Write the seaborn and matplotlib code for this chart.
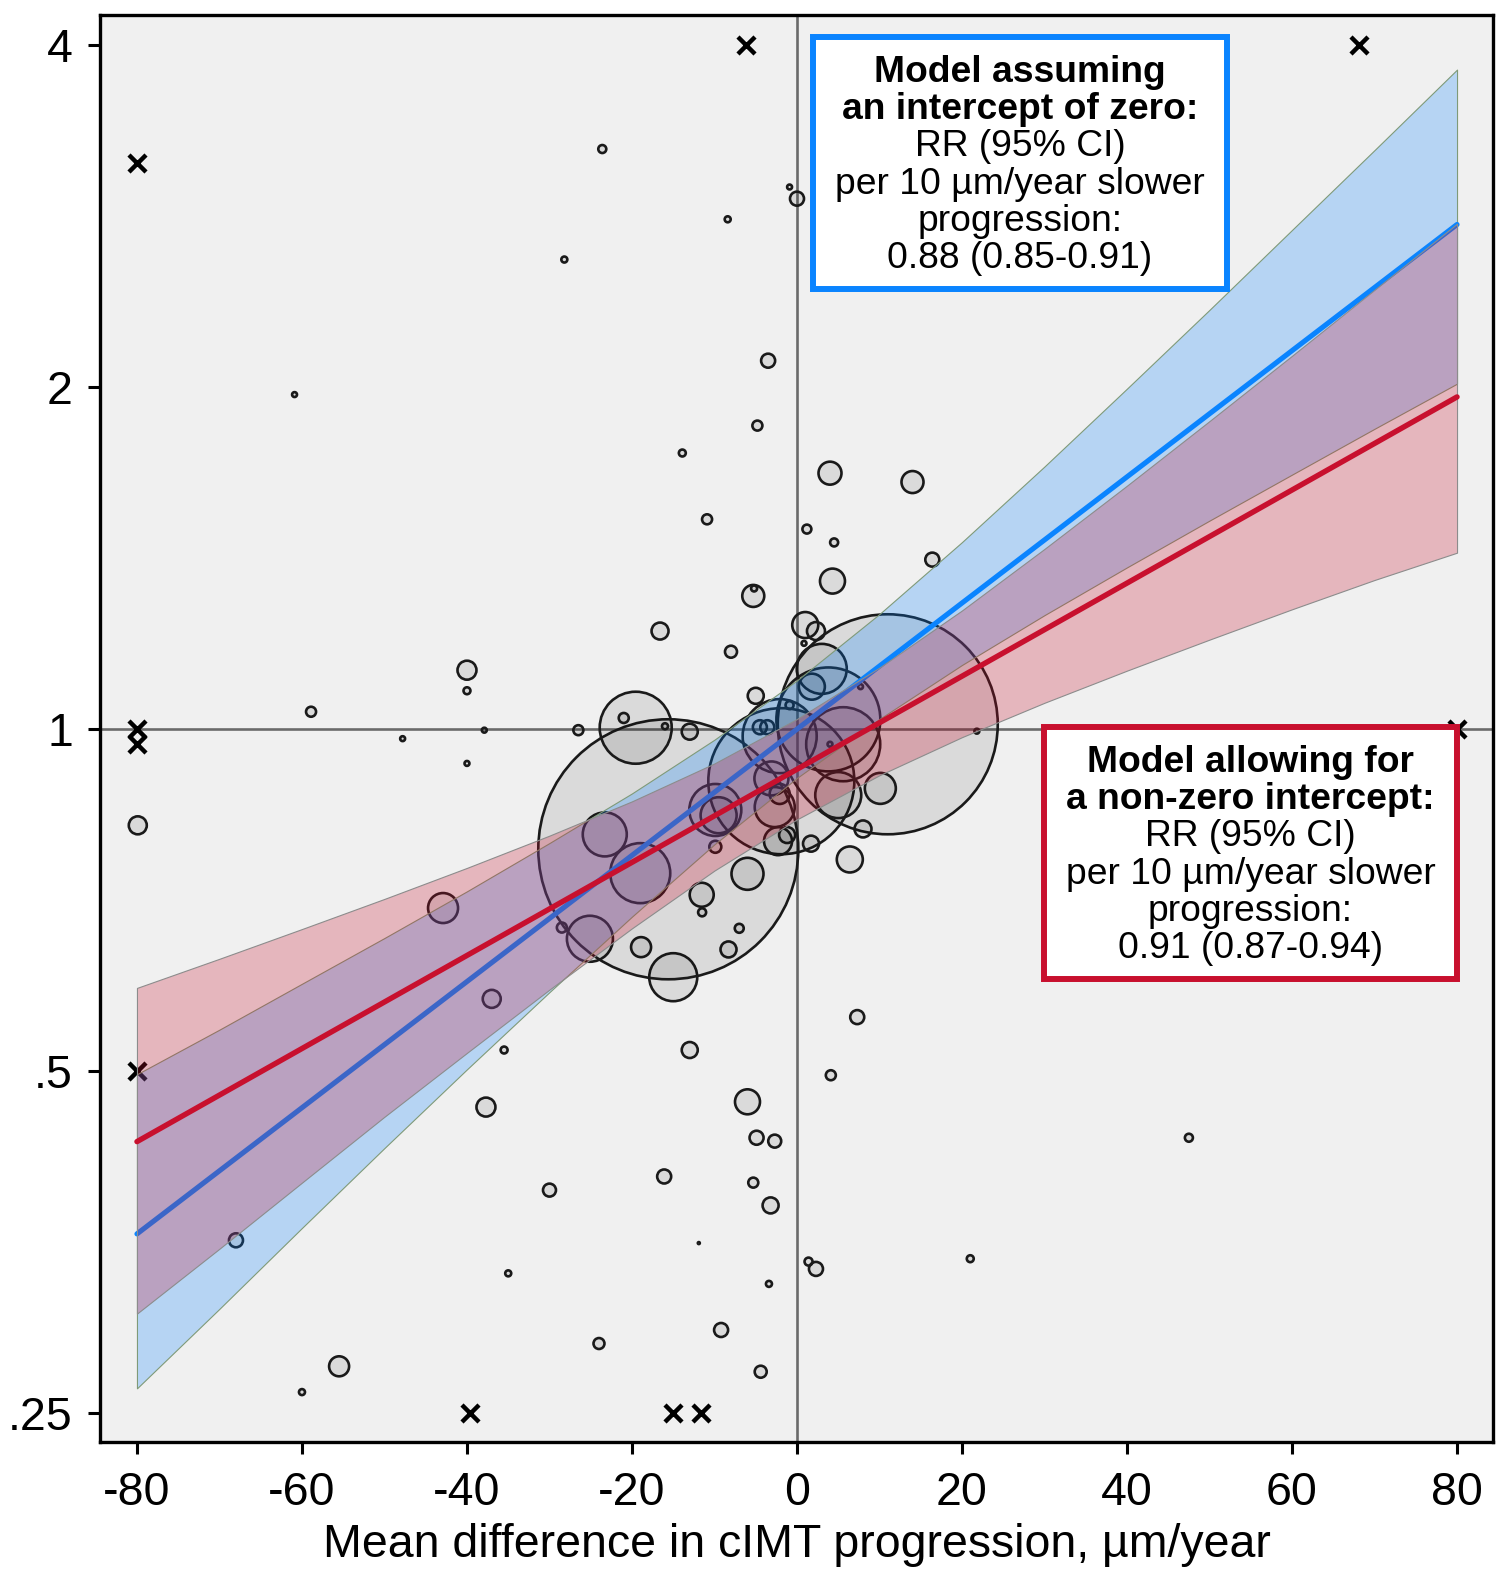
import numpy as np
import pandas as pd
import matplotlib
matplotlib.use("Agg")
import matplotlib.pyplot as plt
from matplotlib.colors import to_rgba
from matplotlib.patches import Rectangle
from matplotlib.ticker import FixedLocator, FixedFormatter, NullLocator
import seaborn as sns

# ---- study-level estimates -------------------------------------------------
# mean difference in cIMT progression (um/year), relative risk, relative weight
study_diff = [
    -23.6, -0.9, 0.0, -8.4, -28.2, -60.9, -3.5, -4.8, -13.9, -10.9,
    -5.3, -5.2, 4.0, 14.0, 1.2, 4.5, 16.4, 4.3, 1.0, 2.3,
    0.85, -8.0, -16.6, -5.0, 3.0, 1.8, 7.7, -0.9, 11.0, 3.8,
    5.6, -2.1, -4.5, -3.6, 4.0, -1.9, -3.1, -2.1, -2.7, -2.3,
    -1.2, 1.7, 5.0, 10.1, 8.0, 6.4, -9.9, -9.5, -9.9, -6.0,
    -11.55, -11.5, -7.0, -8.3, -18.9, -15.0, -25.1, -28.5, -19.0, -23.3,
    -15.6, -19.55, -21.0, -26.5, -16.0, -13.0, -79.9, -58.9, -47.8, -40.0,
    -40.0, -37.9, -40.0, -42.9, -37.0, -35.5, -37.7, -13.0, -6.0, -4.9,
    -2.7, -30.0, -16.1, -5.3, -3.2, -68.0, -11.9, -35.0, -3.4, -9.2,
    -24.0, -4.4, -55.5, -60.0, 7.3, 4.1, 1.4, 2.3, 21.0, 47.5,
    21.8,
]
study_rr = [
    3.24, 3.00, 2.93, 2.81, 2.59, 1.97, 2.11, 1.85, 1.75, 1.53,
    1.31, 1.33, 1.68, 1.65, 1.50, 1.46, 1.41, 1.35, 1.235, 1.22,
    1.19, 1.17, 1.22, 1.07, 1.13, 1.09, 1.09, 1.05, 1.01, 1.02,
    0.97, 0.986, 1.004, 1.004, 0.97, 0.90, 0.905, 0.877, 0.854, 0.797,
    0.807, 0.793, 0.875, 0.887, 0.817, 0.768, 0.849, 0.840, 0.788, 0.746,
    0.715, 0.690, 0.668, 0.640, 0.643, 0.605, 0.654, 0.669, 0.747, 0.808,
    0.784, 1.003, 1.023, 0.998, 1.006, 0.995, 0.823, 1.036, 0.981, 1.127,
    1.081, 0.998, 0.933, 0.696, 0.579, 0.522, 0.465, 0.522, 0.470, 0.437,
    0.434, 0.393, 0.404, 0.399, 0.381, 0.355, 0.353, 0.332, 0.325, 0.296,
    0.288, 0.272, 0.275, 0.261, 0.558, 0.496, 0.340, 0.335, 0.342, 0.437,
    0.996,
]
study_weight = [
    0.16, 0.06, 0.49, 0.09, 0.09, 0.06, 0.49, 0.25, 0.12, 0.25,
    1.21, 0.09, 1.32, 1.21, 0.20, 0.16, 0.49, 1.56, 1.69, 0.81,
    0.06, 0.36, 0.72, 0.64, 6.25, 1.69, 0.06, 0.16, 121.0, 27.0,
    13.7, 13.7, 0.49, 0.49, 0.06, 53.3, 2.89, 1.00, 4.00, 1.96,
    0.64, 0.64, 5.29, 2.40, 0.72, 1.69, 6.76, 3.24, 0.36, 2.56,
    1.44, 0.16, 0.20, 0.64, 1.00, 5.76, 5.29, 0.25, 9.00, 4.84,
    169.0, 12.96, 0.25, 0.25, 0.09, 0.64, 0.81, 0.25, 0.06, 0.90,
    0.12, 0.06, 0.06, 2.25, 0.81, 0.12, 0.90, 0.64, 1.56, 0.49,
    0.42, 0.42, 0.49, 0.25, 0.64, 0.49, 0.01, 0.09, 0.09, 0.49,
    0.30, 0.36, 1.00, 0.09, 0.49, 0.25, 0.16, 0.49, 0.12, 0.16,
    0.06,
]

# estimates lying outside the plotted range, drawn at the axis limits
trunc_diff = [-80, -6.2, 68.1, -80, -80, -80, -39.6, -15.0, -11.6, 80]
trunc_rr = [3.15, 4.0, 4.0, 1.0, 0.971, 0.5, 0.25, 0.25, 0.25, 1.0]

# ---- meta-regression results -------------------------------------------------
# RR per 10 um/year slower progression
rr10_zero = 0.88          # model assuming an intercept of zero
rr10_free = 0.91          # model allowing for a non-zero intercept
rr0_free = 0.922          # fitted RR at zero difference (non-zero intercept)
line_x = [-80, 80]

# 95% confidence bands of the fitted lines
band_x = [-80, -70, -60, -50, -40, -30, -20, -10, 0, 10, 20, 30, 40, 50, 60, 70, 80]
band_zero_hi = [0.497, 0.544, 0.597, 0.655, 0.720, 0.794, 0.878, 0.979, 1.104,
                1.263, 1.461, 1.703, 1.994, 2.339, 2.750, 3.233, 3.806]
band_zero_lo = [0.263, 0.309, 0.364, 0.428, 0.502, 0.587, 0.684, 0.792, 0.906,
                1.021, 1.139, 1.260, 1.388, 1.526, 1.675, 1.838, 2.014]
band_free_hi = [0.592, 0.628, 0.667, 0.709, 0.755, 0.806, 0.864, 0.933, 1.021,
                1.133, 1.272, 1.441, 1.638, 1.867, 2.131, 2.436, 2.785]
band_free_lo = [0.306, 0.349, 0.399, 0.456, 0.519, 0.590, 0.668, 0.751, 0.833,
                0.911, 0.984, 1.055, 1.126, 1.199, 1.275, 1.353, 1.430]

x_ticks = [-80, -60, -40, -20, 0, 20, 40, 60, 80]
x_tick_labels = ["-80", "-60", "-40", "-20", "0", "20", "40", "60", "80"]
y_ticks = [0.25, 0.5, 1, 2, 4]
y_tick_labels = [".25", ".5", "1", "2", "4"]

box_zero_lines = ["Model assuming", "an intercept of zero:", "RR (95% CI)",
                  "per 10 µm/year slower", "progression:", "0.88 (0.85-0.91)"]
box_free_lines = ["Model allowing for", "a non-zero intercept:", "RR (95% CI)",
                  "per 10 µm/year slower", "progression:", "0.91 (0.87-0.94)"]

# ---- styling --------------------------------------------------------------
BLUE = "#0a84ff"
RED = "#c8102e"
FS_AXIS = 33.5
FS_BOX = 26.8

sns.set_theme(style="ticks", rc={
    "axes.facecolor": "#f0f0f0",
    "figure.facecolor": "white",
    "axes.edgecolor": "black",
    "axes.labelcolor": "black",
    "text.color": "black",
    "axes.linewidth": 2.4,
    "xtick.major.size": 8.6, "ytick.major.size": 8.6,
    "xtick.major.width": 2.2, "ytick.major.width": 2.2,
    "xtick.major.pad": 12.5, "ytick.major.pad": 11,
    "xtick.color": "black", "ytick.color": "black",
    "xtick.labelsize": FS_AXIS, "ytick.labelsize": FS_AXIS,
    "axes.unicode_minus": False,
})
plt.rcParams["font.family"] = ["Liberation Sans", "DejaVu Sans"]

W, H = 1498, 1569
fig = plt.figure(figsize=(W / 100, H / 100), dpi=100)
AX_L, AX_R, AX_T, AX_B = 100, 1493, 15, 1442
ax = fig.add_axes([AX_L / W, 1 - AX_B / H, (AX_R - AX_L) / W, (AX_B - AX_T) / H])
ax.set_yscale("log", base=2)

# reference lines
ax.axvline(0, color="#6a6a6a", lw=1.9, zorder=1.5)
ax.axhline(1, color="#6a6a6a", lw=1.9, zorder=1.5)

# study bubbles: marker area proportional to weight
studies = pd.DataFrame({"diff": study_diff, "rr": study_rr, "weight": study_weight})
area_per_weight = 207.36
w_min, w_max = min(study_weight), max(study_weight)
sns.scatterplot(data=studies, x="diff", y="rr", size="weight",
                sizes=(area_per_weight * w_min, area_per_weight * w_max),
                size_norm=(w_min, w_max), legend=False,
                facecolor=(0, 0, 0, 0.09), edgecolor="#1a1a1a", linewidth=1.9,
                marker="o", zorder=2, ax=ax)

# truncated estimates
trunc = pd.DataFrame({"diff": trunc_diff, "rr": trunc_rr})
sns.scatterplot(data=trunc, x="diff", y="rr", marker="x", s=150, color="black",
                linewidth=3.2, legend=False, zorder=2.5, ax=ax)

# model with zero intercept
ax.fill_between(band_x, band_zero_lo, band_zero_hi, facecolor=to_rgba(BLUE, 0.25),
                edgecolor="#7f9a78", linewidth=0.8, zorder=3)
zero_rr = [rr10_zero ** (-x / 10) for x in line_x]
sns.lineplot(x=line_x, y=zero_rr, color=BLUE, linewidth=3.7,
             solid_capstyle="round", zorder=4, ax=ax)

# model with free intercept
ax.fill_between(band_x, band_free_lo, band_free_hi, facecolor=to_rgba(RED, 0.26),
                edgecolor="#8c8c8c", linewidth=0.8, zorder=5)
free_rr = [rr0_free * rr10_free ** (-x / 10) for x in line_x]
sns.lineplot(x=line_x, y=free_rr, color=RED, linewidth=3.9,
             solid_capstyle="round", zorder=6, ax=ax)

# axes
ax.set_xlim(-84.48, 84.36)
ax.set_ylim(0.2359, 4.251)
ax.xaxis.set_major_locator(FixedLocator(x_ticks))
ax.xaxis.set_major_formatter(FixedFormatter(x_tick_labels))
ax.yaxis.set_major_locator(FixedLocator(y_ticks))
ax.yaxis.set_major_formatter(FixedFormatter(y_tick_labels))
ax.yaxis.set_minor_locator(NullLocator())
ax.xaxis.set_minor_locator(NullLocator())
for side in ["top", "right", "left", "bottom"]:
    ax.spines[side].set_visible(True)
    ax.spines[side].set_linewidth(2.4)
ax.set_ylabel("")
ax.set_xlabel("Mean difference in cIMT progression, µm/year", fontsize=FS_AXIS,
              color="black")
ax.xaxis.set_label_coords(0.5, (AX_B - 1557) / (AX_B - AX_T))
ax.xaxis.label.set_va("baseline")


def to_axes(px, py):
    return (px - AX_L) / (AX_R - AX_L), (AX_B - py) / (AX_B - AX_T)


def text_box(lines, left, top, right, bottom, color, first_baseline):
    x0, y0 = to_axes(left + 3, bottom - 3)
    x1, y1 = to_axes(right - 3, top + 3)
    ax.add_patch(Rectangle((x0, y0), x1 - x0, y1 - y0, transform=ax.transAxes,
                           facecolor="white", edgecolor=color, linewidth=4.3,
                           zorder=10, clip_on=False))
    cx = (left + right) / 2
    for i, line in enumerate(lines):
        tx, ty = to_axes(cx, first_baseline + 37.3 * i)
        ax.text(tx, ty, line, transform=ax.transAxes, ha="center", va="baseline",
                fontsize=FS_BOX, fontweight="bold" if i < 2 else "normal",
                color="black", zorder=11)


text_box(box_zero_lines, 810, 34, 1230, 292, BLUE, 81.7)
text_box(box_free_lines, 1041, 724, 1460, 982, RED, 771.7)

fig.savefig("out.png", dpi=100)
